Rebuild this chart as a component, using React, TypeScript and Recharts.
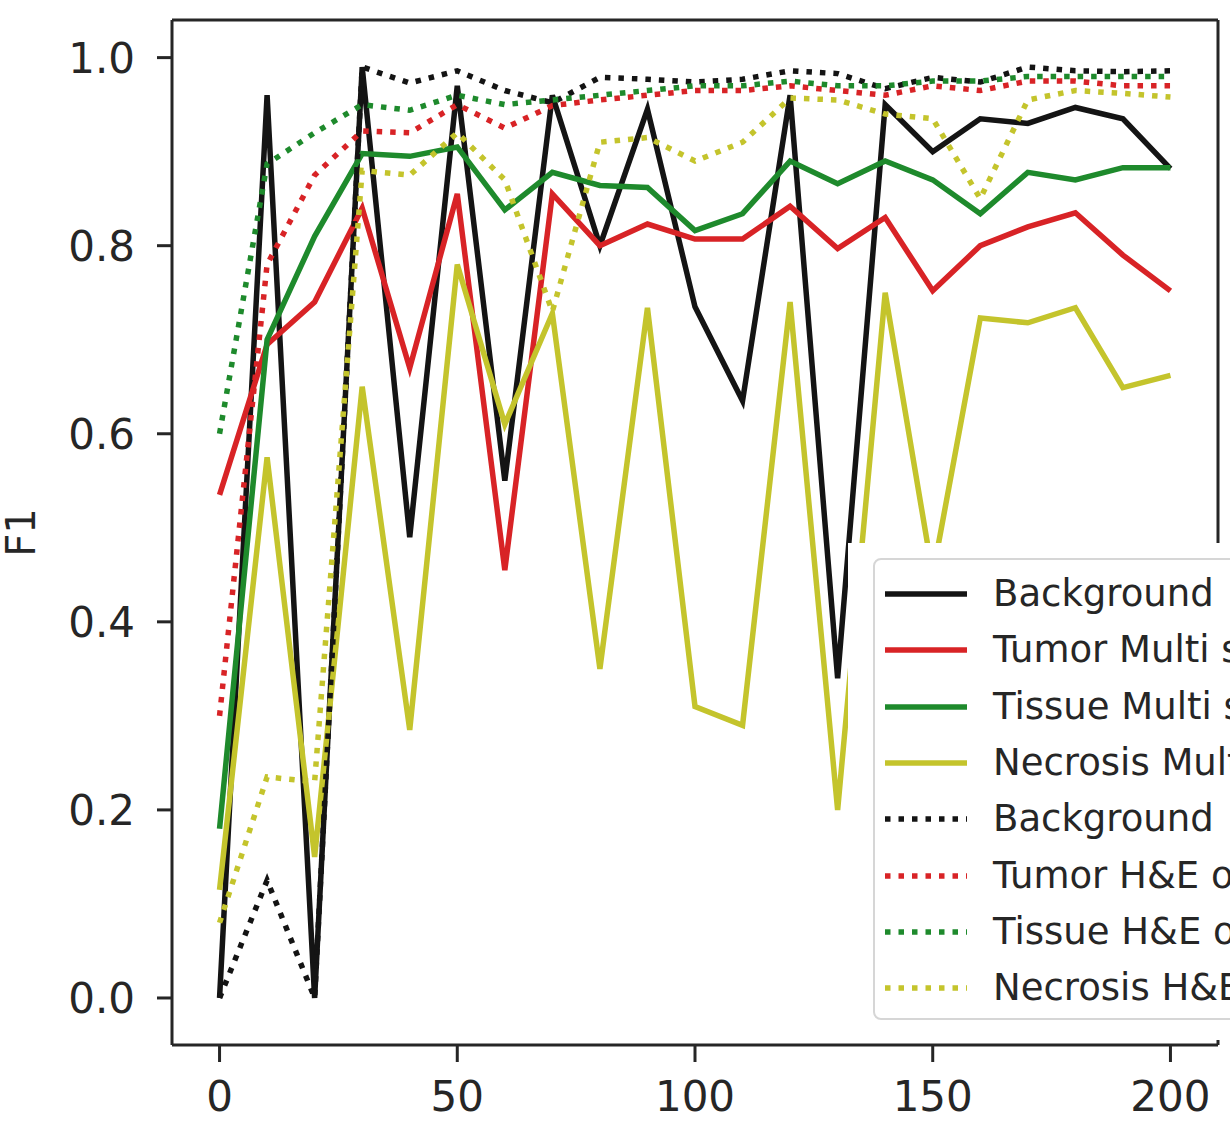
import React from "react";
import { LineChart, Line, XAxis, YAxis, ReferenceLine } from "recharts";

const epochs = [0, 10, 20, 30, 40, 50, 60, 70, 80, 90, 100, 110, 120, 130, 140, 150, 160, 170, 180, 190, 200];

const backgroundMulti = [0.0, 0.96, 0.0, 0.99, 0.49, 0.97, 0.55, 0.96, 0.8, 0.945, 0.735, 0.635, 0.96, 0.34, 0.95, 0.9, 0.935, 0.93, 0.947, 0.935, 0.882];
const tumorMulti = [0.535, 0.695, 0.74, 0.84, 0.67, 0.855, 0.455, 0.855, 0.8, 0.823, 0.807, 0.807, 0.842, 0.797, 0.83, 0.752, 0.8, 0.82, 0.835, 0.79, 0.752];
const tissueMulti = [0.18, 0.7, 0.81, 0.898, 0.895, 0.905, 0.838, 0.878, 0.864, 0.862, 0.816, 0.834, 0.89, 0.866, 0.89, 0.87, 0.834, 0.878, 0.87, 0.883, 0.883];
const necrosisMulti = [0.115, 0.575, 0.15, 0.65, 0.285, 0.78, 0.61, 0.728, 0.35, 0.734, 0.31, 0.29, 0.74, 0.2, 0.75, 0.45, 0.723, 0.718, 0.734, 0.649, 0.662];

const backgroundHE = [0.0, 0.125, 0.0, 0.99, 0.973, 0.986, 0.965, 0.952, 0.979, 0.977, 0.974, 0.977, 0.986, 0.983, 0.967, 0.979, 0.974, 0.99, 0.986, 0.985, 0.986];
const tumorHE = [0.3, 0.78, 0.875, 0.922, 0.92, 0.95, 0.925, 0.949, 0.955, 0.96, 0.965, 0.965, 0.97, 0.965, 0.96, 0.97, 0.965, 0.975, 0.975, 0.97, 0.97];
const tissueHE = [0.6, 0.887, 0.92, 0.95, 0.944, 0.96, 0.95, 0.955, 0.96, 0.965, 0.97, 0.97, 0.975, 0.97, 0.97, 0.975, 0.975, 0.98, 0.98, 0.98, 0.98];
const necrosisHE = [0.08, 0.235, 0.23, 0.88, 0.875, 0.92, 0.87, 0.73, 0.91, 0.915, 0.89, 0.91, 0.957, 0.955, 0.94, 0.935, 0.85, 0.955, 0.965, 0.962, 0.958];

const xTicks = [0, 50, 100, 150, 200];
const yTicks = [0, 0.2, 0.4, 0.6, 0.8, 1.0];

const BLACK = "#141414";
const RED = "#d82326";
const GREEN = "#1e8a2c";
const YELLOW = "#c4c42c";
const DOTS = "5.5 8";
const TEXT = "#262626";
const FONT = "'DejaVu Sans', sans-serif";

const series = [
  { key: "bgMulti", label: "Background", values: backgroundMulti, color: BLACK, dotted: false },
  { key: "tumorMulti", label: "Tumor Multi stain", values: tumorMulti, color: RED, dotted: false },
  { key: "tissueMulti", label: "Tissue Multi stain", values: tissueMulti, color: GREEN, dotted: false },
  { key: "necrosisMulti", label: "Necrosis Multi stain", values: necrosisMulti, color: YELLOW, dotted: false },
  { key: "bgHE", label: "Background", values: backgroundHE, color: BLACK, dotted: true },
  { key: "tumorHE", label: "Tumor H&E only", values: tumorHE, color: RED, dotted: true },
  { key: "tissueHE", label: "Tissue H&E only", values: tissueHE, color: GREEN, dotted: true },
  { key: "necrosisHE", label: "Necrosis H&E only", values: necrosisHE, color: YELLOW, dotted: true },
];

const data = epochs.map((epoch, i) => {
  const row: Record<string, number> = { epoch };
  series.forEach((s) => (row[s.key] = s.values[i]));
  return row;
});

const tickStyle = { fontSize: 42, fill: TEXT, fontFamily: FONT };

function YLabel({ viewBox }: any) {
  const x = viewBox.x + 21;
  const y = viewBox.y + viewBox.height / 2;
  return (
    <text
      x={x}
      y={y}
      transform={`rotate(-90, ${x}, ${y})`}
      textAnchor="middle"
      dominantBaseline="central"
      fontSize={40}
      fill={TEXT}
      fontFamily={FONT}
    >
      F1
    </text>
  );
}

function LegendBox() {
  return (
    <>
      <div style={{ position: "absolute", left: 848, top: 543, width: 400, height: 497, background: "#fff" }} />
      <div
        style={{
          position: "absolute",
          left: 873,
          top: 558,
          width: 420,
          height: 458,
          border: "2px solid #d6d6d6",
          borderRadius: 8,
          background: "#fff",
        }}
      >
        {series.map((s, i) => (
          <div
            key={s.key}
            style={{ position: "absolute", left: 8, top: 10 + i * 56.3, height: 48, display: "flex", alignItems: "center" }}
          >
            <svg width={84} height={20} style={{ display: "block" }}>
              <line
                x1={2}
                y1={10}
                x2={84}
                y2={10}
                stroke={s.color}
                strokeWidth={5.5}
                strokeDasharray={s.dotted ? DOTS : undefined}
              />
            </svg>
            <span
              style={{ marginLeft: 26, fontSize: 37, fontFamily: FONT, color: TEXT, whiteSpace: "nowrap", lineHeight: "48px" }}
            >
              {s.label}
            </span>
          </div>
        ))}
      </div>
    </>
  );
}

export default function App() {
  return (
    <div style={{ position: "absolute", left: 0, top: 0, width: 1230, height: 1137, overflow: "hidden", background: "#fff" }}>
      <LineChart width={1230} height={1137} data={data} margin={{ top: 20, right: 12, bottom: 0, left: 0 }}>
        <XAxis
          dataKey="epoch"
          type="number"
          domain={[-10, 210]}
          allowDataOverflow
          ticks={xTicks}
          height={92}
          tick={tickStyle}
          tickSize={17}
          tickMargin={19}
          axisLine={{ stroke: TEXT, strokeWidth: 3 }}
          tickLine={{ stroke: TEXT, strokeWidth: 3 }}
        />
        <YAxis
          type="number"
          domain={[-0.05, 1.04]}
          allowDataOverflow
          ticks={yTicks}
          width={172}
          tick={tickStyle}
          tickFormatter={(v: number) => v.toFixed(1)}
          tickSize={15}
          tickMargin={22}
          axisLine={{ stroke: TEXT, strokeWidth: 3 }}
          tickLine={{ stroke: TEXT, strokeWidth: 3 }}
          label={<YLabel />}
        />
        <ReferenceLine x={210} stroke={TEXT} strokeWidth={3} />
        <ReferenceLine y={1.04} stroke={TEXT} strokeWidth={3} />
        {series.map((s) => (
          <Line
            key={s.key}
            dataKey={s.key}
            type="linear"
            stroke={s.color}
            strokeWidth={5.5}
            strokeDasharray={s.dotted ? DOTS : undefined}
            dot={false}
            activeDot={false}
            isAnimationActive={false}
          />
        ))}
      </LineChart>
      <LegendBox />
    </div>
  );
}
